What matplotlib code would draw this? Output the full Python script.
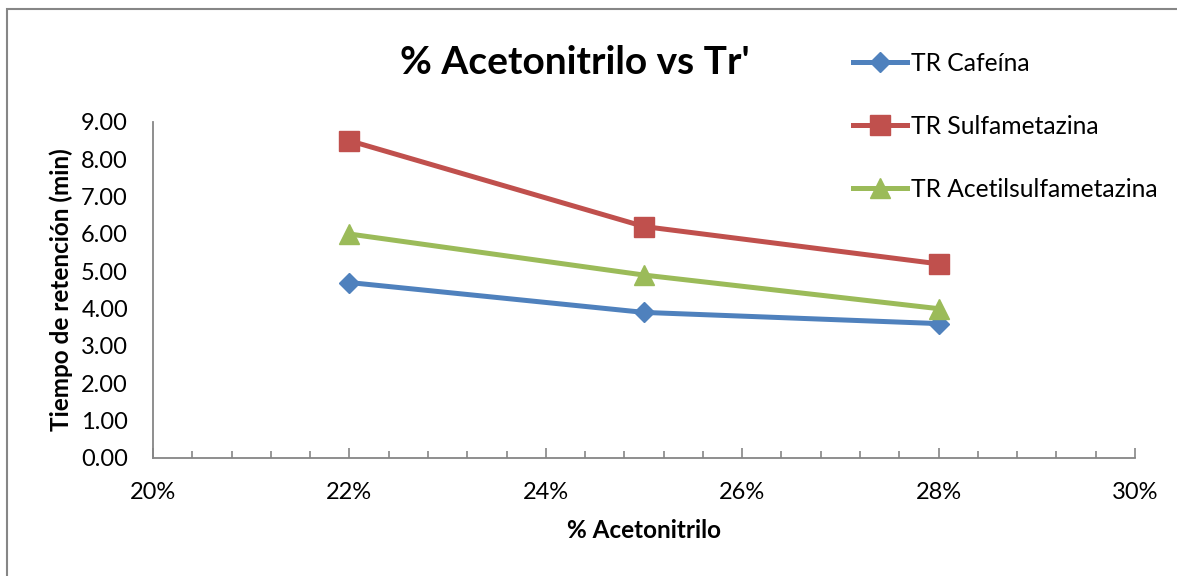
import matplotlib.pyplot as plt
from matplotlib.patches import Rectangle
from matplotlib.ticker import MultipleLocator, FuncFormatter

plt.rcParams['font.family'] = ['Lato', 'DejaVu Sans']

# % acetonitrilo en la fase móvil
acetonitrilo = [0.22, 0.25, 0.28]

# tiempos de retención (min)
tr_cafeina = [4.7, 3.9, 3.6]
tr_sulfametazina = [8.5, 6.2, 5.2]
tr_acetilsulfametazina = [6.0, 4.9, 4.0]

series = [
    ("TR Cafeína", tr_cafeina, "#4F81BD", "D", 10),
    ("TR Sulfametazina", tr_sulfametazina, "#C0504D", "s", 14),
    ("TR Acetilsulfametazina", tr_acetilsulfametazina, "#9BBB59", "^", 14),
]

W, H = 1177, 576
fig = plt.figure(figsize=(W / 100, H / 100), dpi=100)
ax = fig.add_axes([153 / W, 1 - 458 / H, (1135 - 153) / W, (458 - 122) / H])

for name, vals, color, marker, ms in series:
    ax.plot(acetonitrilo, vals, color=color, lw=3.6, marker=marker, ms=ms,
            markeredgecolor=color, label=name, clip_on=False)

ax.set_xlim(0.20, 0.30)
ax.set_ylim(0, 9)
ax.xaxis.set_major_locator(MultipleLocator(0.02))
ax.xaxis.set_minor_locator(MultipleLocator(0.004))
ax.yaxis.set_major_locator(MultipleLocator(1))
ax.xaxis.set_major_formatter(FuncFormatter(lambda v, p: f"{v * 100:.0f}%"))
ax.yaxis.set_major_formatter(FuncFormatter(lambda v, p: f"{v:.2f}"))

for s in ("top", "right"):
    ax.spines[s].set_visible(False)
for s in ("left", "bottom"):
    ax.spines[s].set_color("#868686")
    ax.spines[s].set_linewidth(1.3)

ax.tick_params(axis="x", which="major", direction="in", length=7, width=1.2,
               color="#868686", labelsize=17, pad=17)
ax.tick_params(axis="x", which="minor", direction="in", length=5, width=1.2,
               color="#868686")
ax.tick_params(axis="y", length=0, labelsize=17, pad=18)

ax.set_xlabel("% Acetonitrilo", fontsize=17.5, fontweight="bold", labelpad=12)
ax.set_ylabel("Tiempo de retención (min)", fontsize=17.5, fontweight="bold", labelpad=6)

fig.text(575 / W, 1 - 62 / H, "% Acetonitrilo vs Tr'", fontsize=28,
         fontweight="bold", ha="center", va="center")

fig.legend(loc="upper left", bbox_to_anchor=(853 / W, 1 - 52 / H), frameon=False,
           fontsize=17.7, handlelength=2.2, handletextpad=0.15, labelspacing=1.62,
           borderpad=0, borderaxespad=0)

# marco exterior del gráfico
fig.patches.append(Rectangle((7 / W, -0.1), 1.2, 1.1 - 9 / H, transform=fig.transFigure,
                             fill=False, edgecolor="#868686", lw=1.5))

fig.savefig("out.png", dpi=100)
